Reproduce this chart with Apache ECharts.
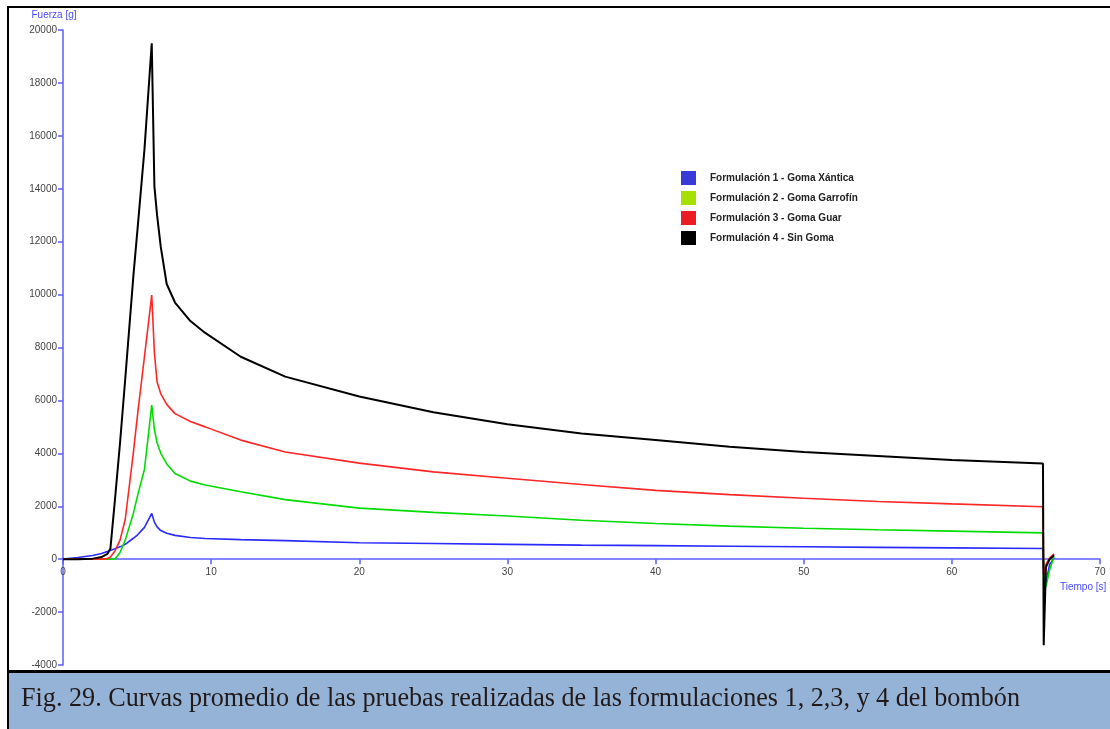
<!DOCTYPE html>
<html>
<head>
<meta charset="utf-8">
<script src="https://cdn.jsdelivr.net/npm/echarts@6/dist/echarts.min.js"></script>
<style>
  html, body { margin: 0; padding: 0; background: #fff; }
  #chart { width: 1110px; height: 729px; }
</style>
</head>
<body>
<div id="chart"></div>
<script>
// tiempo [s] comun a las cuatro curvas
const tiempo = [0, 1, 2, 2.6, 3, 3.2, 3.5, 3.85, 4.2, 4.75, 5.05, 5.5, 5.99, 6.17, 6.35, 6.6, 7, 7.56, 8.6, 9.6,
  12, 15, 20, 25, 30, 35, 40, 45, 50, 55, 60, 66.15, 66.2, 66.35, 66.6, 66.9];

// fuerza [g]
const xantica = [0, 60, 140, 215, 290, 330, 390, 465, 560, 790, 930, 1200, 1730, 1400, 1220, 1080, 980, 900, 820, 780,
  740, 700, 620, 590, 560, 530, 510, 490, 470, 445, 425, 405, -500, -900, -200, 50];
const garrofin = [0, 0, 0, 0, 0, 0, 0, 250, 720, 1730, 2440, 3400, 5820, 4900, 4400, 4000, 3600, 3240, 2950, 2800,
  2550, 2250, 1930, 1770, 1630, 1470, 1350, 1250, 1170, 1110, 1060, 995, -300, -1050, -400, 100];
const guar = [0, 0, 0, 0, 20, 80, 300, 720, 1500, 4030, 5550, 7660, 9980, 7800, 6700, 6250, 5850, 5500, 5200, 5000,
  4500, 4050, 3630, 3300, 3060, 2820, 2600, 2440, 2300, 2180, 2090, 1980, -600, -200, 50, 200];
const sinGoma = [0, 0, 20, 80, 200, 400, 2200, 4400, 6800, 10700, 12600, 15500, 19500, 14100, 13000, 11800, 10400, 9700, 9000, 8550,
  7650, 6900, 6150, 5550, 5100, 4750, 4500, 4250, 4050, 3900, 3750, 3620, -3250, -300, 0, 150];

const nombres = [
  'Formulación 1 - Goma Xántica',
  'Formulación 2 - Goma Garrofín',
  'Formulación 3 - Goma Guar',
  'Formulación 4 - Sin Goma'
];
const colores = ['#2b2bff', '#00dc00', '#ff2626', '#000000'];
const coloresLeyenda = ['#3a3ad8', '#a6e000', '#ec1c24', '#000000'];
const valores = [xantica, garrofin, guar, sinGoma];

const yMin = -4000;
const yMax = 20000;

const caption = 'Fig. 29. Curvas promedio de las pruebas realizadas de las formulaciones 1, 2,3, y 4 del bombón';

// ancho del pie de figura (texto estrecho como en el original)
const ctx = document.createElement('canvas').getContext('2d');
ctx.font = '28px "Liberation Serif"';
const captionScale = 999 / ctx.measureText(caption).width;

const axisBlue = '#5c5cff';
const gridTop = 30;
const gridBottom = 64;
const gridHeight = 729 - gridTop - gridBottom;

const myChart = echarts.init(document.getElementById('chart'));

const option = {
  backgroundColor: '#fff',
  animation: false,
  grid: { left: 63, right: 10, top: gridTop, bottom: gridBottom, containLabel: false, outerBoundsMode: 'none' },
  legend: {
    orient: 'vertical',
    left: 676,
    top: 166,
    icon: 'rect',
    itemWidth: 15,
    itemHeight: 14,
    itemGap: 6,
    textStyle: { fontFamily: 'Liberation Sans', fontWeight: 'bold', fontSize: 10, color: '#222', padding: [0, 0, 0, 9] },
    data: nombres.map((n, i) => ({ name: n, itemStyle: { color: coloresLeyenda[i] } }))
  },
  xAxis: {
    type: 'value',
    min: 0,
    max: 70,
    interval: 10,
    // el eje de tiempo pasa por fuerza = 0
    offset: -gridHeight * (0 - yMin) / (yMax - yMin),
    axisLine: { onZero: false, lineStyle: { color: axisBlue, width: 1.5 } },
    axisTick: { show: true, length: 5, lineStyle: { color: axisBlue, width: 1.5 } },
    axisLabel: { fontFamily: 'Liberation Sans', fontSize: 10, color: '#444', margin: 8 },
    splitLine: { show: false }
  },
  yAxis: {
    type: 'value',
    min: yMin,
    max: yMax,
    interval: 2000,
    name: 'Fuerza [g]',
    nameLocation: 'end',
    nameGap: 10,
    nameTextStyle: { fontFamily: 'Liberation Sans', fontSize: 10, color: '#4a4aff', padding: [0, 18, 0, 0] },
    axisLine: { show: true, lineStyle: { color: axisBlue, width: 1.5 } },
    axisTick: { show: true, length: 5, lineStyle: { color: axisBlue, width: 1.5 } },
    axisLabel: { fontFamily: 'Liberation Sans', fontSize: 10, color: '#444', margin: 6, formatter: v => String(v) },
    splitLine: { show: false }
  },
  series: valores.map((v, i) => ({
    name: nombres[i],
    type: 'line',
    showSymbol: false,
    symbol: 'none',
    smooth: false,
    data: tiempo.map((t, k) => [t, v[k]]),
    lineStyle: { color: colores[i], width: i === 3 ? 2 : 1.6 },
    itemStyle: { color: colores[i] }
  })),
  graphic: [
    // marco de la figura
    {
      type: 'rect',
      z: -1,
      shape: { x: 8, y: 7, width: 1110, height: 665 },
      style: { fill: null, stroke: '#000', lineWidth: 2 }
    },
    // pie de figura
    {
      type: 'rect',
      shape: { x: 8, y: 672, width: 1110, height: 70 },
      style: { fill: '#95b3d7', stroke: '#000', lineWidth: 2 }
    },
    {
      type: 'rect',
      shape: { x: 8, y: 670, width: 1110, height: 3 },
      style: { fill: '#000' }
    },
    {
      type: 'text',
      x: 21,
      y: 713,
      scaleX: captionScale,
      style: {
        text: caption,
        font: '28px "Liberation Serif"',
        fill: '#221a1a',
        verticalAlign: 'bottom'
      }
    },
    {
      type: 'text',
      x: 1060,
      y: 582,
      style: { text: 'Tiempo [s]', font: '10px "Liberation Sans"', fill: '#4a4aff' }
    }
  ]
};

myChart.setOption(option);
window.addEventListener('resize', () => {
  myChart.resize();
});
</script>
</body>
</html>
